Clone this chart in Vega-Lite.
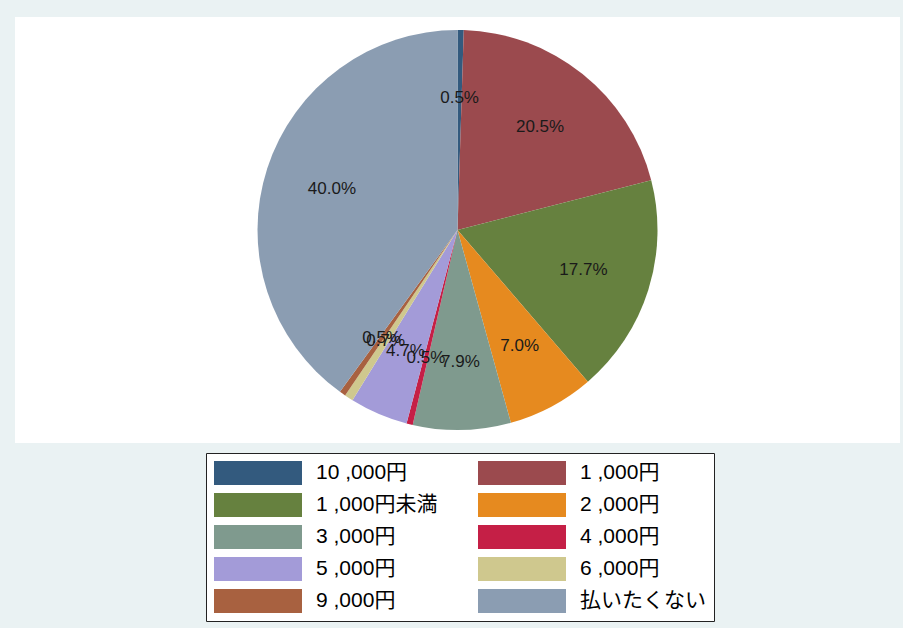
{
  "$schema": "https://vega.github.io/schema/vega-lite/v6.json",
  "autosize": {"type": "none"},
  "width": 885,
  "height": 426,
  "padding": {"left": 15, "top": 17, "right": 3, "bottom": 185},
  "background": "#EAF2F3",
  "config": {
    "view": {"stroke": null},
    "font": "Liberation Sans, Noto Sans CJK JP"
  },
  "data": {
    "values": [
      {"category": "10 ,000円", "value": 0.5, "label": "0.5%", "order": 1},
      {"category": "1 ,000円", "value": 20.5, "label": "20.5%", "order": 2},
      {"category": "1 ,000円未満", "value": 17.7, "label": "17.7%", "order": 3},
      {"category": "2 ,000円", "value": 7.0, "label": "7.0%", "order": 4},
      {"category": "3 ,000円", "value": 7.9, "label": "7.9%", "order": 5},
      {"category": "4 ,000円", "value": 0.5, "label": "0.5%", "order": 6},
      {"category": "5 ,000円", "value": 4.7, "label": "4.7%", "order": 7},
      {"category": "6 ,000円", "value": 0.7, "label": "0.7%", "order": 8},
      {"category": "9 ,000円", "value": 0.5, "label": "0.5%", "order": 9},
      {"category": "払いたくない", "value": 40.0, "label": "40.0%", "order": 10}
    ]
  },
  "layer": [
    {
      "data": {"values": [{"panel": "plot"}]},
      "mark": {"type": "rect", "color": "white"}
    },
    {
      "mark": {"type": "arc", "outerRadius": 200},
      "encoding": {
        "theta": {"field": "value", "type": "quantitative", "stack": true},
        "order": {"field": "order", "type": "quantitative", "sort": "ascending"},
        "color": {
          "field": "category",
          "type": "nominal",
          "scale": {
            "domain": ["10 ,000円", "1 ,000円", "1 ,000円未満", "2 ,000円", "3 ,000円", "4 ,000円", "5 ,000円", "6 ,000円", "9 ,000円", "払いたくない"],
            "range": ["#335A7E", "#9B4A4E", "#66813F", "#E68A1F", "#7F9A8E", "#C51F46", "#A39BD8", "#CFC88E", "#A86140", "#8B9DB2"]
          },
          "legend": {
            "title": null,
            "orient": "none",
            "legendX": 191,
            "legendY": 436,
            "direction": "horizontal",
            "columns": 2,
            "fillColor": "white",
            "strokeColor": "#222222",
            "cornerRadius": 0,
            "padding": 8,
            "symbolType": "M-1,-1H6.333V1H-1Z",
            "symbolSize": 576,
            "symbolStrokeWidth": 0,
            "symbolOpacity": 1,
            "rowPadding": 8,
            "columnPadding": 40,
            "labelOffset": 78,
            "labelFontSize": 21,
            "labelColor": "#000000",
            "labelLimit": 300,
            "labelFont": "Liberation Sans, Noto Sans CJK JP"
          }
        }
      }
    },
    {
      "mark": {"type": "text", "radius": 132, "fontSize": 17, "color": "#1a1a1a", "font": "Liberation Sans"},
      "encoding": {
        "theta": {"field": "value", "type": "quantitative", "stack": true},
        "order": {"field": "order", "type": "quantitative", "sort": "ascending"},
        "text": {"field": "label", "type": "nominal"}
      }
    }
  ]
}
